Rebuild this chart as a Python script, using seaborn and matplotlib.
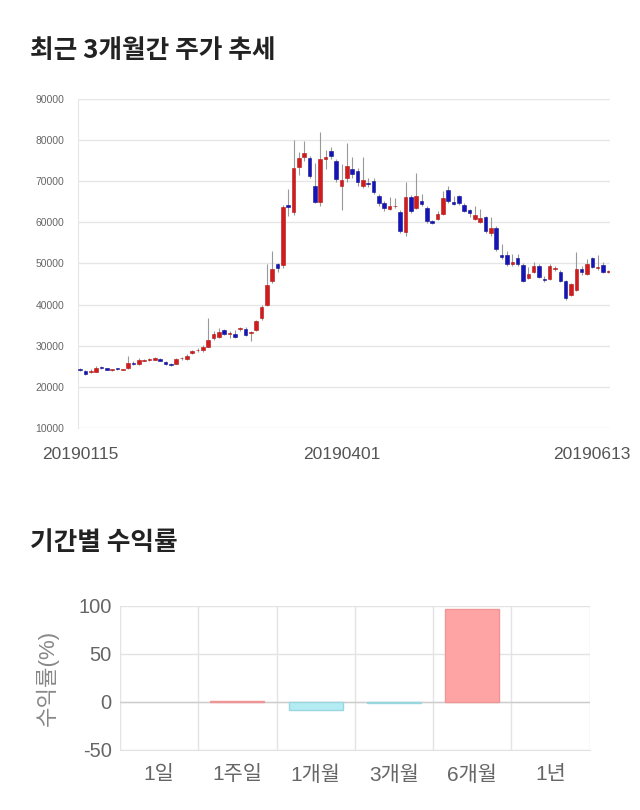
import seaborn as sns
import matplotlib.pyplot as plt
import pandas as pd
import numpy as np

# candle data (open, close, high, low)
opens = [24400, 23900, 23600, 23700, 24800, 24600, 24000, 24400, 24200, 24600,
         25900, 25600, 26400, 26600, 26600, 26800, 26100, 25600, 25600, 26900,
         26700, 28200, 28900, 29000, 29800, 31900, 32200, 33800, 32900, 32900,
         34100, 34000, 33100, 33800, 36800, 39900, 45800, 49900, 49700, 64300,
         62500, 73500, 75900, 75700, 68900, 65000, 75400, 77400, 74900, 68900,
         70900, 73000, 72500, 68900, 69600, 70100, 66400, 64800, 63200, 63900,
         62400, 57700, 66200, 63600, 65100, 63500, 60300, 60800, 62100, 67900,
         65000, 66400, 64300, 63000, 60800, 60200, 61300, 57400, 58700, 52000,
         52000, 49800, 51300, 49700, 46400, 47900, 49500, 46100, 46300, 48700,
         48000, 45700, 42300, 43600, 48600, 47500, 51400, 48900, 49700, 48000]
closes = [24000, 23200, 23700, 24600, 24600, 24200, 24300, 24300, 24200, 25800,
          25600, 26500, 26500, 26600, 27000, 26400, 25600, 25300, 26800, 27000,
          27600, 28700, 29000, 29800, 31400, 32900, 33400, 32900, 32900, 32200,
          34100, 32600, 33400, 35900, 39300, 44800, 48700, 49000, 63800, 63800,
          73300, 75700, 76900, 71200, 65000, 75400, 75900, 76200, 70600, 70300,
          73600, 71800, 69900, 70200, 69400, 67400, 64800, 63600, 63900, 63900,
          58000, 66200, 62700, 66400, 64500, 60300, 59900, 62000, 65900, 65100,
          64500, 64700, 62800, 62200, 61800, 61000, 57900, 58600, 53500, 51600,
          49800, 50400, 49800, 45800, 47500, 49400, 46700, 46000, 49500, 48700,
          45800, 41700, 44900, 48700, 47900, 49800, 49200, 49200, 48000, 48000]
highs = [24600, 24100, 24300, 25000, 25000, 24700, 24400, 24600, 24400, 27600,
         26200, 27000, 26800, 27000, 27200, 26900, 26200, 25800, 27000, 27200,
         27900, 28900, 29500, 30200, 36800, 33500, 34200, 34000, 33500, 33800,
         34600, 34600, 33500, 36300, 40000, 49900, 53100, 50200, 64300, 68000,
         80100, 77000, 79800, 76200, 74500, 82000, 77500, 78300, 75500, 74300,
         79400, 75800, 73200, 75800, 70800, 70800, 67000, 65200, 66200, 66000,
         63000, 69700, 66700, 72100, 67000, 64000, 60600, 62700, 67700, 68900,
         66400, 66700, 64600, 63300, 64000, 63200, 61600, 61400, 59100, 54800,
         53000, 52400, 52200, 50000, 49200, 50300, 49800, 47000, 49800, 49300,
         48300, 46000, 45300, 52800, 49500, 51000, 51700, 52000, 50300, 48500]
lows = [23800, 23000, 23400, 23500, 24400, 24000, 23900, 24200, 24000, 24300,
        25300, 25400, 26200, 26300, 26500, 26300, 25400, 25100, 25500, 26600,
        26500, 28000, 28600, 28600, 29600, 31500, 32000, 32500, 32000, 31800,
        33600, 32300, 31200, 33600, 36300, 39600, 45300, 48000, 49000, 61500,
        61800, 71500, 74800, 70700, 64600, 64000, 73000, 75500, 69900, 63100,
        69800, 70900, 68800, 68300, 68700, 67000, 63900, 62700, 63000, 63600,
        57500, 56700, 62200, 63200, 64000, 59800, 59600, 60500, 61800, 64800,
        64200, 64300, 62400, 61400, 60500, 59900, 57300, 56700, 53100, 51200,
        49500, 49400, 49500, 45400, 46200, 47700, 46400, 45500, 46000, 48200,
        45400, 41200, 42000, 43300, 47300, 47200, 49000, 48500, 47700, 47700]
date_ticks = [0, 49, 96]
date_labels = ["20190115", "20190401", "20190613"]

periods = ["1일", "1주일", "1개월", "3개월", "6개월", "1년"]
returns = [0, 1.5, -8.0, -1.0, 97.0, 0]

sns.set_style("white")
plt.rcParams['font.family'] = ['Liberation Sans', 'Noto Sans CJK KR', 'DejaVu Sans']
plt.rcParams['axes.unicode_minus'] = False

fig = plt.figure(figsize=(6.4, 8.1), dpi=100)

# ---- candlestick chart
ax = fig.add_axes([0.1219, 0.4716, 0.831, 0.4062])
idx = np.arange(len(opens))
o = np.array(opens)
c = np.array(closes)
up = c >= o
ax.vlines(idx, lows, highs, color="#999999", linewidth=0.8, zorder=2)
body = np.where(np.abs(c - o) < 150, 150, c - o)
ax.bar(idx, body, bottom=o, width=0.65,
       color=np.where(up, "#d01c1c", "#1414b8"),
       edgecolor=np.where(up, "#b01515", "#101090"), linewidth=0.4, zorder=3)
ax.set_xlim(-0.4, 99.3)
ax.set_ylim(10000, 90000)
ax.set_yticks(range(10000, 90001, 10000))
ax.yaxis.grid(True, color="#e6e6e6", linewidth=1)
ax.tick_params(axis="y", labelsize=7.5, labelcolor="#666666", length=0, pad=10)
ax.set_xticks(date_ticks)
ax.set_xticklabels(date_labels)
ax.tick_params(axis="x", labelsize=12.5, labelcolor="#555555", length=0, pad=14)
for s in ["top", "right", "bottom"]:
    ax.spines[s].set_visible(False)
ax.spines["left"].set_color("#e6e6e6")

fig.text(0.047, 0.938, "최근 3개월간 주가 추세", fontsize=18.5, fontweight="bold",
         color="#222222", va="center", family=["Noto Sans CJK KR", "DejaVu Sans"])

# ---- return bar chart
ax2 = fig.add_axes([0.1875, 0.0741, 0.734, 0.1778])
df = pd.DataFrame({"period": periods, "ret": returns})
colors = ["#ffa4a4" if r >= 0 else "#b4ecf4" for r in returns]
edges = ["#f09595" if r >= 0 else "#9ad6de" for r in returns]
sns.barplot(data=df, x="period", y="ret", hue="period", palette=colors,
            saturation=1, legend=False, width=0.69, ax=ax2, zorder=3)
for p, e, r in zip(ax2.patches, edges, returns):
    p.set_edgecolor(e)
    p.set_linewidth(1 if r != 0 else 0)
ax2.set_xlim(-0.5, 5.5)
ax2.set_ylim(-50, 100)
ax2.set_yticks([-50, 0, 50, 100])
ax2.yaxis.grid(True, color="#e3e3e3", linewidth=1)
ax2.set_xticks(np.arange(-0.5, 6, 1), minor=True)
ax2.xaxis.grid(True, which="minor", color="#e3e3e3", linewidth=1)
ax2.tick_params(axis="x", which="minor", length=10, color="#e3e3e3", width=1)
ax2.tick_params(axis="x", which="major", length=0, labelsize=15,
                labelcolor="#666666", pad=11)
ax2.tick_params(axis="y", length=0, labelsize=14.5, labelcolor="#666666", pad=6)
ax2.axhline(0, color="#cccccc", linewidth=1, zorder=2)
ax2.set_xlabel("")
ax2.set_ylabel("수익률(%)", fontsize=16, color="#888888", labelpad=14)
for s in ["top", "right", "left"]:
    ax2.spines[s].set_visible(False)
ax2.spines["bottom"].set_color("#e3e3e3")

fig.text(0.047, 0.330, "기간별 수익률", fontsize=18.5, fontweight="bold",
         color="#222222", va="center", family=["Noto Sans CJK KR", "DejaVu Sans"])

fig.savefig("out.png", dpi=100)
